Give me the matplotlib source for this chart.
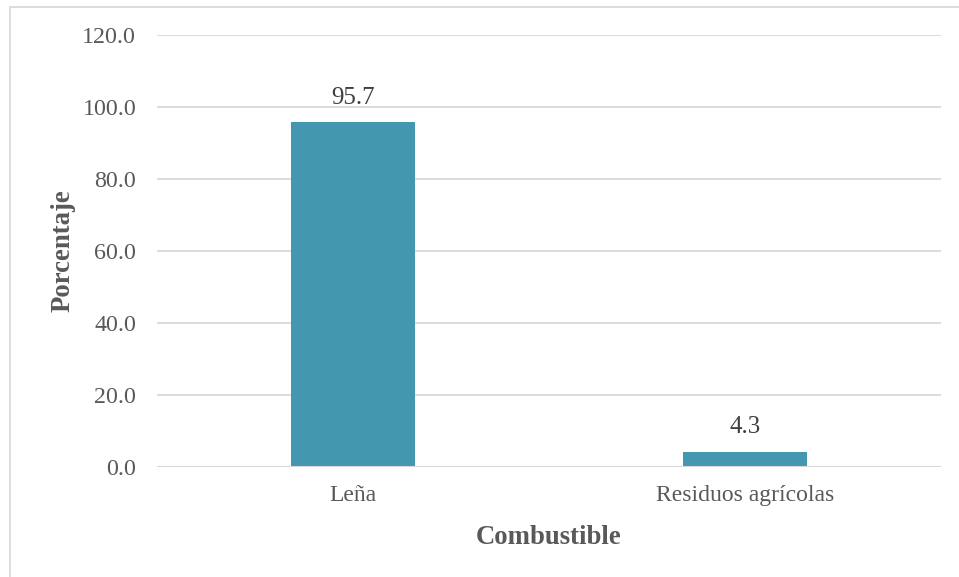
import matplotlib
matplotlib.use("Agg")
import matplotlib.pyplot as plt
from matplotlib.patches import Rectangle

categories = ["Leña", "Residuos agrícolas"]
values = [95.7, 4.3]
yticks = [0, 20, 40, 60, 80, 100, 120]

plt.rcParams["font.family"] = ["Liberation Serif", "DejaVu Serif"]

W, H = 959, 577
fig = plt.figure(figsize=(W / 100, H / 100), dpi=100)
ax = fig.add_axes([157 / W, 1 - 467 / H, (941 - 157) / W, (467 - 35) / H])

bar_color = "#4398b0"
grid_color = "#d9d9d9"
text_color = "#595959"

x = list(range(len(categories)))
bars = ax.bar(x, values, width=0.316, color=bar_color, zorder=2)

ax.set_xlim(-0.5, len(categories) - 0.5)
ax.set_ylim(0, 120)
ax.set_yticks(yticks)
ax.set_yticklabels([f"{v:.1f}" for v in yticks], fontsize=17.3, color=text_color)
ax.set_xticks(x)
ax.set_xticklabels(categories, fontsize=17, color=text_color)
ax.tick_params(axis="both", length=0)
ax.tick_params(axis="y", pad=15)
ax.tick_params(axis="x", pad=13)

ax.yaxis.grid(True, color=grid_color, linewidth=1.3, zorder=1)
ax.set_axisbelow(True)
for s in ax.spines.values():
    s.set_visible(False)
ax.axhline(0, color=grid_color, linewidth=1.5, zorder=3)

for xi, v in zip(x, values):
    ax.annotate(f"{v:.1f}", (xi, v), xytext=(0, 10), textcoords="offset points",
                ha="center", va="bottom", fontsize=18, color="#404040")

ax.set_ylabel("Porcentaje", fontsize=19.3, fontweight="bold", color=text_color, labelpad=5)
ax.set_xlabel("Combustible", fontsize=19.3, fontweight="bold", color=text_color, labelpad=14)

# light frame around the chart area
fig.patches.append(Rectangle((10 / W, -0.1), 1.2, 1 - 7 / H + 0.1,
                             transform=fig.transFigure, fill=False,
                             edgecolor="#d9d9d9", linewidth=1.3))

fig.savefig("out.png", dpi=100)
